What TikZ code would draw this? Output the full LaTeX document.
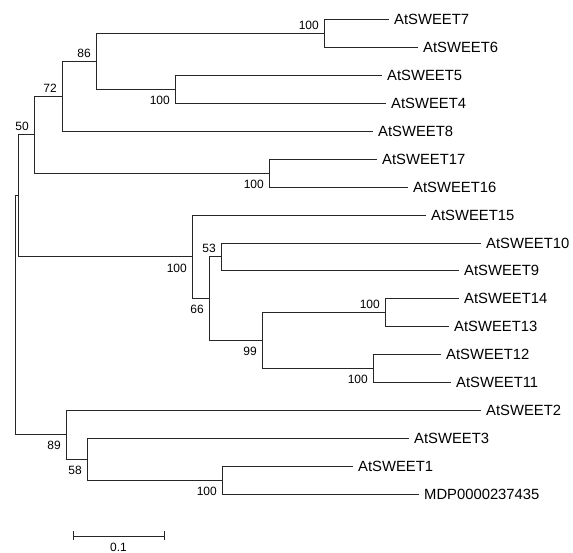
\documentclass[tikz,border=0pt]{standalone}
\usepackage{fontspec}
\setmainfont{Liberation Sans}
\begin{document}
\begin{tikzpicture}[x=1pt,y=-1pt,
  br/.style={draw=black!85,line width=0.9pt},
  leaf/.style={anchor=west,inner sep=0pt,xshift=5pt,font=\fontsize{14.8}{16}\selectfont},
  bsa/.style={anchor=south east,inner sep=0pt,xshift=-5pt,yshift=4pt,font=\fontsize{12}{13}\selectfont},
  bsb/.style={anchor=north east,inner sep=0pt,xshift=-5pt,yshift=-6.5pt,font=\fontsize{12}{13}\selectfont}]
\useasboundingbox (0,0) rectangle (573,553);
% leaves
\coordinate (L7) at (389,19.8);
\coordinate (L6) at (418,47.7);
\coordinate (L5) at (382,75.6);
\coordinate (L4) at (386,103.5);
\coordinate (L8) at (373,131.4);
\coordinate (L17) at (377,159.3);
\coordinate (L16) at (408,187.2);
\coordinate (L15) at (426,215.1);
\coordinate (L10) at (481,243);
\coordinate (L9) at (459,270.9);
\coordinate (L14) at (459,298.8);
\coordinate (L13) at (449,326.7);
\coordinate (L12) at (441,354.6);
\coordinate (L11) at (451,382.5);
\coordinate (L2) at (481,410.4);
\coordinate (L3) at (409,438.3);
\coordinate (L1) at (353,466.2);
\coordinate (LM) at (419,494.1);
% internal nodes
\coordinate (n76) at (324,33.75);
\coordinate (n54) at (175,89.55);
\coordinate (n86) at (96,61.65);
\coordinate (n72) at (62,96.5);
\coordinate (n1716) at (269,173.25);
\coordinate (n50) at (34,134.9);
\coordinate (n1413) at (385,312.75);
\coordinate (n1211) at (373,368.55);
\coordinate (n99) at (262,340.65);
\coordinate (n53) at (221,256.95);
\coordinate (n66) at (209,298.8);
\coordinate (nB) at (192,256.95);
\coordinate (nA) at (18.3,195.9);
\coordinate (n1M) at (222,480.15);
\coordinate (n58) at (87,459.2);
\coordinate (n89) at (66,434.8);
\coordinate (root) at (15.5,315);
% branches
\draw[br] (root) |- (nA);
\draw[br] (root) |- (n89);
\draw[br] (nA) |- (n50);
\draw[br] (nA) |- (nB);
\draw[br] (n50) |- (n72);
\draw[br] (n50) |- (n1716);
\draw[br] (n72) |- (n86);
\draw[br] (n72) |- (L8);
\draw[br] (n86) |- (n76);
\draw[br] (n86) |- (n54);
\draw[br] (n76) |- (L7);
\draw[br] (n76) |- (L6);
\draw[br] (n54) |- (L5);
\draw[br] (n54) |- (L4);
\draw[br] (n1716) |- (L17);
\draw[br] (n1716) |- (L16);
\draw[br] (nB) |- (L15);
\draw[br] (nB) |- (n66);
\draw[br] (n66) |- (n53);
\draw[br] (n66) |- (n99);
\draw[br] (n53) |- (L10);
\draw[br] (n53) |- (L9);
\draw[br] (n99) |- (n1413);
\draw[br] (n99) |- (n1211);
\draw[br] (n1413) |- (L14);
\draw[br] (n1413) |- (L13);
\draw[br] (n1211) |- (L12);
\draw[br] (n1211) |- (L11);
\draw[br] (n89) |- (L2);
\draw[br] (n89) |- (n58);
\draw[br] (n58) |- (L3);
\draw[br] (n58) |- (n1M);
\draw[br] (n1M) |- (L1);
\draw[br] (n1M) |- (LM);
% leaf labels
\node[leaf] (t7) at (L7) {AtSWEET7};
\node[leaf] (t6) at (L6) {AtSWEET6};
\node[leaf] (t5) at (L5) {AtSWEET5};
\node[leaf] (t4) at (L4) {AtSWEET4};
\node[leaf] (t8) at (L8) {AtSWEET8};
\node[leaf] (t17) at (L17) {AtSWEET17};
\node[leaf] (t16) at (L16) {AtSWEET16};
\node[leaf] (t15) at (L15) {AtSWEET15};
\node[leaf] (t10) at (L10) {AtSWEET10};
\node[leaf] (t9) at (L9) {AtSWEET9};
\node[leaf] (t14) at (L14) {AtSWEET14};
\node[leaf] (t13) at (L13) {AtSWEET13};
\node[leaf] (t12) at (L12) {AtSWEET12};
\node[leaf] (t11) at (L11) {AtSWEET11};
\node[leaf] (t2) at (L2) {AtSWEET2};
\node[leaf] (t3) at (L3) {AtSWEET3};
\node[leaf] (t1) at (L1) {AtSWEET1};
\node[leaf] (tM) at (LM) {MDP0000237435};
% bootstrap values
\node[bsa] (b76) at (n76) {100};
\node[bsa] (b86) at (n86) {86};
\node[bsb] (b54) at (n54) {100};
\node[bsa] (b72) at (n72) {72};
\node[bsb] (b1716) at (n1716) {100};
\node[bsa] (b50) at (n50) {50};
\node[bsb] (bB) at (nB) {100};
\node[bsa] (b53) at (n53) {53};
\node[bsb] (b66) at (n66) {66};
\node[bsb] (b99) at (n99) {99};
\node[bsa] (b1413) at (n1413) {100};
\node[bsb] (b1211) at (n1211) {100};
\node[bsb] (b89) at (n89) {89};
\node[bsb] (b58) at (n58) {58};
\node[bsb] (b1M) at (n1M) {100};
% scale bar
\coordinate (s1) at (73,536);
\coordinate (s2) at (164,536);
\draw[br] (s1) -- (s2);
\draw[br] ([yshift=5pt]s1) -- ([yshift=-4pt]s1);
\draw[br] ([yshift=5pt]s2) -- ([yshift=-4pt]s2);
\node[anchor=north,inner sep=0pt,font=\fontsize{12}{13}\selectfont] (sl) at (118.5,543) {0.1};
\end{tikzpicture}
\end{document}
